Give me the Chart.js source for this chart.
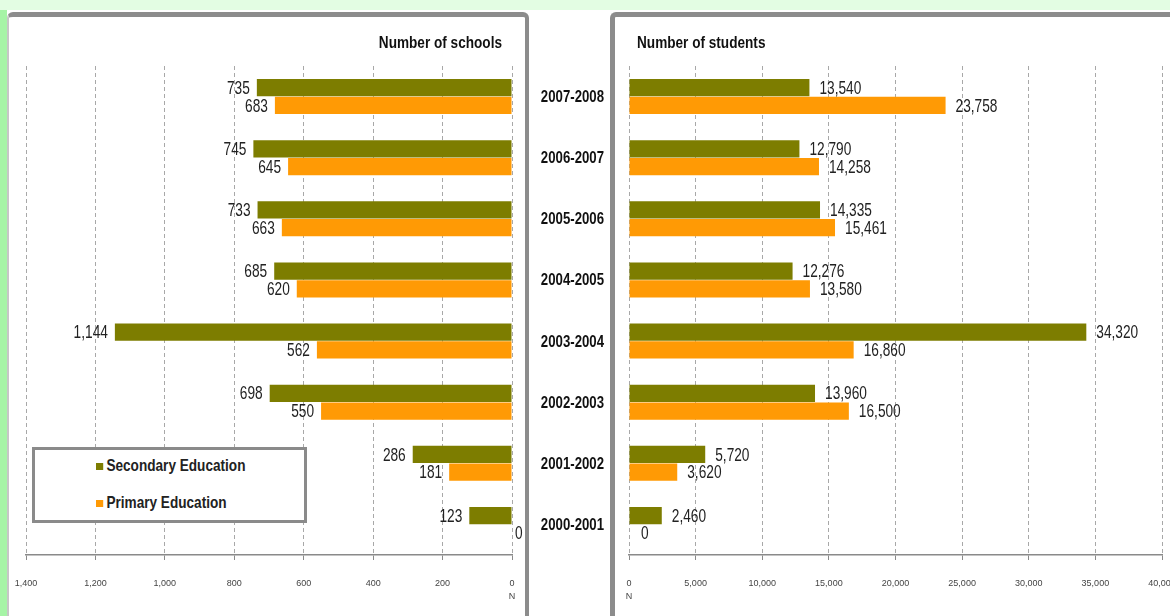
<!DOCTYPE html>
<html>
<head>
<meta charset="utf-8">
<title>Schools and students by school year</title>
<script src="https://cdn.jsdelivr.net/npm/chart.js@4.4.1/dist/chart.umd.min.js"></script>
<style>
  html, body { margin: 0; padding: 0; }
  body {
    width: 1170px; height: 616px; position: relative; overflow: hidden;
    background: #e3fde3;
    font-family: 'Liberation Sans', Arial, sans-serif;
  }
  #sheet { position: absolute; left: 7px; top: 10px; right: 0; bottom: 0; background: #fff; }
  #strip { position: absolute; left: 0; top: 10px; width: 7px; bottom: 0; background: #a6f4a6; }
  .panel { position: absolute; box-sizing: border-box; background: #fff; }
  #panelL {
    left: 7px; top: 12px; width: 522px; height: 660px;
    border-top: 5px solid #8c8c8c; border-right: 4px solid #8c8c8c; border-left: 2px solid #c6c6c6;
    border-radius: 6px 6px 0 0;
  }
  #panelR {
    left: 610px; top: 12px; width: 620px; height: 660px;
    border-top: 5px solid #8c8c8c; border-left: 5px solid #8c8c8c;
    border-radius: 6px 0 0 0;
  }
  canvas { position: absolute; top: 0; }
  #cSchools { left: 0; }
  #cStudents { left: 530px; }
  #legend {
    position: absolute; left: 32px; top: 447px; width: 275px; height: 76px;
    box-sizing: border-box; border: 3px solid #8a8a8a; background: #fff;
  }
  .item {
    position: absolute; left: 61px; height: 20px; display: flex; align-items: center;
    transform: scaleX(0.8); transform-origin: 0 50%;
  }
  .swatch { width: 9px; height: 7px; margin-right: 4px; }
  .item span { font-weight: bold; font-size: 17px; color: #222; white-space: nowrap; }
</style>
</head>
<body>
<div id="sheet"></div>
<div id="strip"></div>
<div class="panel" id="panelL"></div>
<div class="panel" id="panelR"></div>
<canvas id="cSchools" width="530" height="616"></canvas>
<canvas id="cStudents" width="640" height="616"></canvas>
<div id="legend"></div>

<script>
// ---- data ----
const years = ['2007-2008', '2006-2007', '2005-2006', '2004-2005',
               '2003-2004', '2002-2003', '2001-2002', '2000-2001'];
const seriesNames = ['Secondary Education', 'Primary Education'];
const seriesColors = ['#7d7d00', '#ff9a05'];

const schoolsSecondary = [735, 745, 733, 685, 1144, 698, 286, 123];
const schoolsPrimary   = [683, 645, 663, 620, 562, 550, 181, 0];

const studentsSecondary = [13540, 12790, 14335, 12276, 34320, 13960, 5720, 2460];
const studentsPrimary   = [23758, 14258, 15461, 13580, 16860, 16500, 3620, 0];

const schoolAxis  = [0, 1400, 200];     // min, max, step
const studentAxis = [0, 40000, 5000];
const axisUnit = 'N';
const panelTitles = ['Number of schools', 'Number of students'];

// ---- shared styling ----
const SANS = "'Liberation Sans', Arial, sans-serif";
const fmt = v => v.toLocaleString('en-US');

Chart.defaults.font.family = SANS;
Chart.defaults.color = '#444';

// draws text squeezed horizontally around its anchor point
function narrowText(ctx, text, x, y, align, font, color, squeeze) {
  ctx.save();
  ctx.font = font;
  ctx.fillStyle = color;
  ctx.textBaseline = 'middle';
  ctx.textAlign = align;
  ctx.translate(x, y);
  ctx.scale(squeeze, 1);
  ctx.fillText(text, 0, 0);
  ctx.restore();
}

// value labels written next to the end of every bar
const valueLabels = {
  id: 'valueLabels',
  afterDatasetsDraw(chart, args, opts) {
    const ctx = chart.ctx;
    chart.data.datasets.forEach((ds, di) => {
      chart.getDatasetMeta(di).data.forEach((bar, i) => {
        const v = ds.data[i];
        let x = bar.x, align;
        if (opts.side === 'left' && v !== 0) {
          align = 'right';
          x -= opts.dx;
        } else {
          align = 'left';
          x += (v === 0 ? opts.zeroDx : opts.dx);
        }
        narrowText(ctx, fmt(v), x, bar.y + 1, align, '18.5px ' + SANS, '#222', 0.74);
      });
    });
  }
};

// heading above each plot
const panelTitle = {
  id: 'panelTitle',
  afterDraw(chart, args, opts) {
    const a = chart.chartArea;
    const x = opts.align === 'right' ? a.right - opts.inset : a.left + opts.inset;
    narrowText(chart.ctx, opts.text, x, 43, opts.align, 'bold 17px ' + SANS, '#111', 0.8);
  }
};

// school-year names beside the category axis
const yearLabels = {
  id: 'yearLabels',
  afterDraw(chart, args, opts) {
    const y = chart.scales.y;
    y.ticks.forEach((t, i) => {
      narrowText(chart.ctx, y.getLabelForValue(t.value), y.right - opts.gap,
                 y.getPixelForTick(i) + 1, 'right', 'bold 16.5px ' + SANS, '#111', 0.8);
    });
  }
};

function valueAxis(range, reverse) {
  return {
    type: 'linear',
    position: 'bottom',
    reverse: reverse,
    min: range[0], max: range[1],
    ticks: {
      stepSize: range[2],
      padding: 17,
      maxRotation: 0,
      font: { size: 9, lineHeight: 1.45 },
      color: '#444',
      callback: v => v === 0 ? [fmt(v), axisUnit] : fmt(v)
    },
    grid: {
      color: '#a8a8a8',
      lineWidth: 1,
      tickLength: 5,
      tickColor: '#8a8a8a',
      tickBorderDash: []
    },
    border: { display: true, color: '#8a8a8a', width: 1.5, dash: [4, 3] },
    afterFit(scale) {
      scale.height = 61;
      scale.paddingLeft = 0;
      scale.paddingRight = 0;
    }
  };
}

function barSets(a, b) {
  return [a, b].map((data, k) => ({
    label: seriesNames[k],
    data: data,
    backgroundColor: seriesColors[k],
    borderWidth: 0,
    categoryPercentage: 0.58,
    barPercentage: 0.97
  }));
}

// ---- left panel: schools (axis runs right to left) ----
new Chart(document.getElementById('cSchools'), {
  type: 'bar',
  data: { labels: years, datasets: barSets(schoolsSecondary, schoolsPrimary) },
  plugins: [valueLabels, panelTitle],
  options: {
    indexAxis: 'y',
    responsive: false,
    animation: false,
    layout: { padding: { left: 26, right: 18, top: 66, bottom: 0 } },
    scales: {
      x: valueAxis(schoolAxis, true),
      y: { display: false }
    },
    plugins: {
      legend: { display: false },
      tooltip: { enabled: false },
      valueLabels: { side: 'left', dx: 7, zeroDx: 3 },
      panelTitle: { text: panelTitles[0], align: 'right', inset: 10 }
    }
  }
});

// ---- right panel: students, with the school years down its left side ----
new Chart(document.getElementById('cStudents'), {
  type: 'bar',
  data: { labels: years, datasets: barSets(studentsSecondary, studentsPrimary) },
  plugins: [valueLabels, panelTitle, yearLabels],
  options: {
    indexAxis: 'y',
    responsive: false,
    animation: false,
    layout: { padding: { left: 0, right: 8, top: 66, bottom: 0 } },
    scales: {
      x: valueAxis(studentAxis, false),
      y: {
        position: 'left',
        grid: { display: false, drawTicks: false },
        border: { display: false },
        ticks: { display: false },
        afterFit(scale) { scale.width = 99; }
      }
    },
    plugins: {
      legend: { display: false },
      tooltip: { enabled: false },
      valueLabels: { side: 'right', dx: 10, zeroDx: 12 },
      panelTitle: { text: panelTitles[1], align: 'left', inset: 8 },
      yearLabels: { gap: 25 }
    }
  }
});

// ---- legend box inside the schools panel ----
const legend = document.getElementById('legend');
seriesNames.forEach((name, k) => {
  const row = document.createElement('div');
  row.className = 'item';
  row.style.top = (6 + k * 37) + 'px';
  const sw = document.createElement('div');
  sw.className = 'swatch';
  sw.style.background = seriesColors[k];
  const txt = document.createElement('span');
  txt.textContent = name;
  row.appendChild(sw);
  row.appendChild(txt);
  legend.appendChild(row);
});
</script>
</body>
</html>
